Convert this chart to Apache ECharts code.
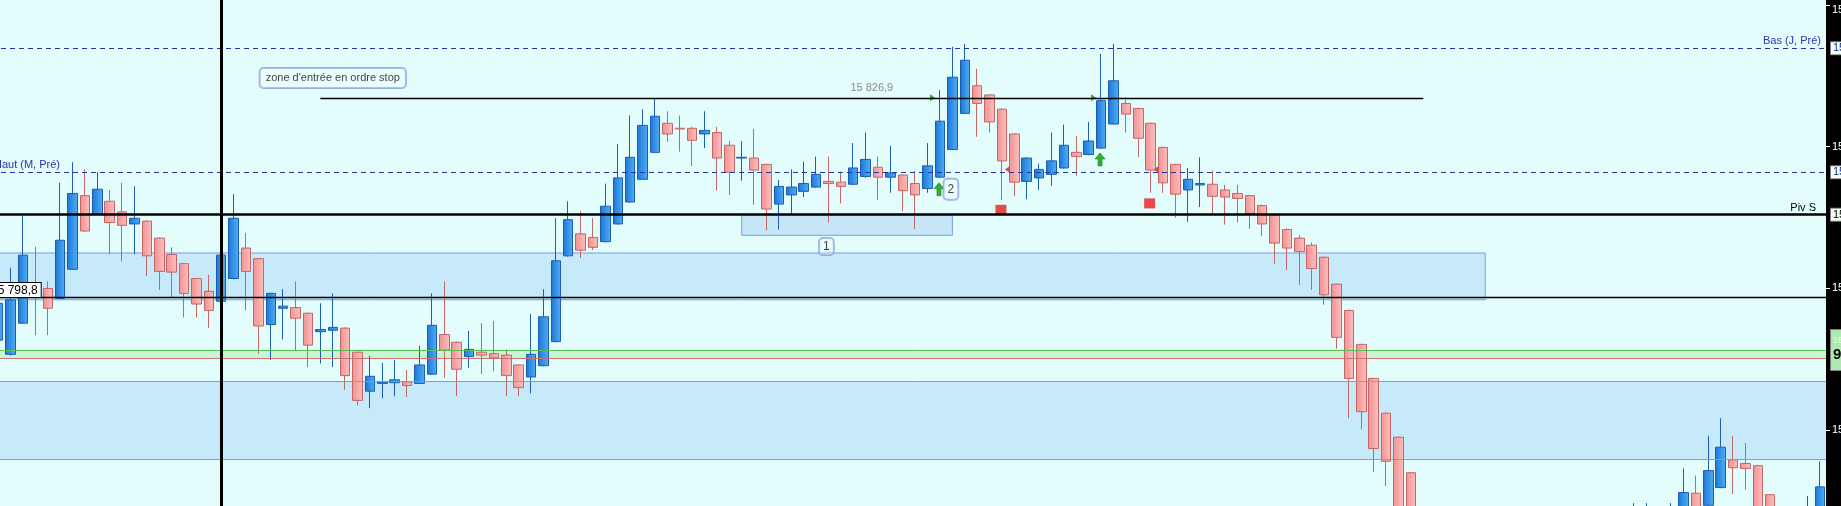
<!DOCTYPE html>
<html>
<head>
<meta charset="utf-8">
<title>Bougies - zone d'entrée</title>
<script src="https://cdn.jsdelivr.net/npm/echarts@6.0.0/dist/echarts.min.js"></script>
<style>
  html, body { margin: 0; padding: 0; background: #000; }
  #chart { width: 1841px; height: 506px; }
</style>
</head>
<body>
<div id="chart"></div>
<script>
// [open, close, low, high] ; null = bar outside the visible price range
const candles = [
  [15792.7, 15797.9, 15792.0, 15798.4], [15790.7, 15798.4, 15790.5, 15802.9], [15795.1, 15804.7, 15795.0, 15810.2],
  [15800.5, 15799.4, 15793.4, 15805.9], [15800.0, 15797.2, 15793.4, 15801.0], [15798.6, 15806.8, 15798.5, 15814.9],
  [15802.7, 15813.4, 15802.6, 15817.8], [15813.1, 15808.1, 15808.0, 15816.8], [15810.5, 15814.0, 15810.4, 15816.4],
  [15812.3, 15809.3, 15804.8, 15813.9], [15810.8, 15808.9, 15803.8, 15814.9], [15809.1, 15809.9, 15804.8, 15814.4],
  [15809.5, 15804.6, 15801.8, 15809.6], [15807.1, 15802.4, 15799.8, 15807.2], [15804.8, 15802.3, 15798.8, 15805.8],
  [15803.5, 15799.3, 15795.9, 15803.6], [15801.4, 15797.8, 15795.9, 15801.5], [15799.6, 15796.9, 15794.4, 15801.9],
  [15798.2, 15804.7, 15798.0, 15805.0], [15801.4, 15809.9, 15801.3, 15813.3], [15805.7, 15802.4, 15796.9, 15807.8],
  [15804.2, 15794.7, 15790.8, 15804.3], [15794.9, 15799.3, 15789.9, 15799.4], [15797.2, 15797.5, 15792.8, 15799.9],
  [15797.3, 15795.8, 15791.3, 15801.0], [15796.5, 15792.0, 15788.9, 15796.6], [15793.9, 15794.2, 15789.4, 15797.9],
  [15794.1, 15794.5, 15788.9, 15799.3], [15794.4, 15787.7, 15785.7, 15794.5], [15791.0, 15784.2, 15783.5, 15791.1],
  [15785.5, 15787.6, 15783.1, 15790.5], [15786.6, 15786.8, 15784.5, 15789.5], [15786.7, 15787.1, 15784.8, 15789.9],
  [15786.8, 15786.3, 15784.7, 15788.5], [15786.6, 15789.2, 15786.5, 15791.9], [15787.9, 15794.8, 15787.8, 15799.3],
  [15793.5, 15791.3, 15787.4, 15801.0], [15792.4, 15788.6, 15784.8, 15792.5], [15790.4, 15791.4, 15788.8, 15794.0],
  [15791.0, 15790.6, 15787.9, 15795.1], [15790.8, 15790.2, 15788.3, 15795.4], [15790.6, 15787.7, 15784.8, 15791.4],
  [15789.2, 15786.0, 15784.8, 15789.3], [15787.5, 15790.7, 15785.2, 15796.4], [15789.1, 15796.0, 15789.0, 15799.9],
  [15792.5, 15803.9, 15792.4, 15809.9], [15804.6, 15809.7, 15804.5, 15812.3], [15807.7, 15805.4, 15804.3, 15810.9],
  [15807.2, 15805.8, 15805.4, 15809.9], [15806.6, 15811.6, 15806.5, 15814.8], [15809.1, 15815.6, 15809.0, 15820.4],
  [15812.2, 15818.5, 15812.1, 15824.4], [15815.4, 15823.0, 15815.3, 15825.3], [15819.2, 15824.3, 15819.1, 15826.8],
  [15823.3, 15821.8, 15820.7, 15825.0], [15822.6, 15822.5, 15819.3, 15824.4], [15822.6, 15820.9, 15817.3, 15822.8],
  [15821.8, 15822.3, 15819.8, 15825.0], [15822.0, 15818.4, 15813.8, 15822.8], [15820.2, 15816.4, 15813.2, 15820.8],
  [15818.4, 15818.5, 15815.2, 15820.8], [15818.4, 15816.7, 15811.8, 15822.5], [15817.5, 15811.2, 15808.2, 15817.6],
  [15811.9, 15814.4, 15808.3, 15815.3], [15813.2, 15814.3, 15810.5, 15816.8], [15813.7, 15814.8, 15812.9, 15817.9],
  [15814.3, 15816.1, 15814.2, 15818.6], [15815.1, 15814.8, 15809.3, 15818.6], [15815.0, 15814.4, 15812.0, 15816.5],
  [15814.7, 15817.0, 15814.6, 15820.5], [15815.8, 15818.2, 15815.6, 15822.0], [15817.1, 15815.7, 15812.5, 15818.6],
  [15815.7, 15816.3, 15813.5, 15820.1], [15816.0, 15813.8, 15810.9, 15816.1], [15814.8, 15813.2, 15808.4, 15816.6],
  [15814.1, 15817.3, 15813.5, 15820.5], [15815.7, 15823.6, 15815.6, 15828.0], [15819.6, 15829.8, 15819.5, 15834.1],
  [15824.7, 15832.2, 15824.6, 15834.5], [15828.6, 15826.1, 15821.4, 15831.0], [15827.3, 15823.5, 15822.0, 15827.4],
  [15825.3, 15818.0, 15812.5, 15825.4], [15821.8, 15815.0, 15813.0, 15821.9], [15815.1, 15818.4, 15812.6, 15818.5],
  [15815.6, 15816.8, 15813.9, 15817.6], [15816.1, 15818.0, 15814.5, 15822.0], [15817.0, 15820.2, 15816.9, 15823.1],
  [15819.2, 15818.6, 15815.9, 15821.5], [15818.9, 15820.8, 15818.8, 15823.5], [15819.8, 15826.5, 15819.7, 15833.1],
  [15823.2, 15829.3, 15823.1, 15834.5], [15826.1, 15824.6, 15822.0, 15827.0], [15825.4, 15821.2, 15818.5, 15825.5],
  [15823.3, 15816.7, 15813.5, 15823.4], [15819.9, 15814.9, 15813.5, 15820.0], [15817.5, 15813.3, 15810.0, 15817.6],
  [15813.9, 15815.4, 15809.4, 15817.0], [15814.6, 15814.8, 15811.5, 15818.5], [15814.7, 15813.0, 15810.5, 15816.6],
  [15813.9, 15812.9, 15809.0, 15814.6], [15813.4, 15812.7, 15809.3, 15814.6], [15813.1, 15810.6, 15808.4, 15813.2],
  [15811.7, 15809.1, 15807.4, 15811.8], [15810.4, 15806.4, 15803.5, 15810.5], [15808.3, 15805.7, 15802.6, 15808.5],
  [15807.1, 15805.2, 15800.5, 15807.5], [15806.1, 15802.8, 15799.8, 15806.5], [15804.4, 15799.1, 15797.7, 15804.5],
  [15800.6, 15793.1, 15791.5, 15800.7], [15796.9, 15787.3, 15781.7, 15797.0], [15792.1, 15782.6, 15780.1, 15792.2],
  [15787.3, 15777.4, 15774.1, 15787.4], [15782.4, 15775.6, 15772.1, 15782.5], [15779.0, 15766.0, 15764.0, 15779.1],
  [15774.0, 15762.0, 15760.0, 15774.1],
  null, null, null, null, null, null, null, null, null, null, null, null, null, null, null, null, null,
  [15764.0, 15767.5, 15762.0, 15769.7], [15764.5, 15768.0, 15762.5, 15769.7], null,
  [15765.0, 15768.5, 15763.0, 15769.7], [15766.0, 15771.2, 15764.0, 15774.6], [15771.1, 15766.5, 15764.5, 15773.6],
  [15769.4, 15774.3, 15768.0, 15779.2], [15771.9, 15777.6, 15771.8, 15781.7], [15775.8, 15774.7, 15771.0, 15779.2],
  [15775.3, 15774.6, 15771.6, 15778.2], [15775.0, 15767.0, 15765.0, 15775.1], [15770.9, 15766.0, 15764.0, 15771.0],
  null, null,
  [15765.0, 15768.0, 15763.0, 15770.7], [15766.0, 15772.0, 15764.0, 15775.6]
];
const categories = candles.map((c, i) => String(i + 1));

// price scale and right axis ticks
const yMin = 15769.3;
const yMax = 15840.7;
const tickValues = [15780, 15800, 15820, 15840];
const tickLabels = ['15 780', '15 800', '15 820', '15 840'];

// levels drawn on the chart
const basJPre = 15833.9;
const hautMPre = 15816.4;
const pivS = 15810.4;
const entryStop = 15826.9;
const entryFrom = 26, entryTo = 115;
const lowLine = 15798.8;
const greenLevel = 15791.3;
const redLevel = 15790.1;
const zoneTop = 15805.0, zoneBottom = 15798.4, zoneEnd = 120;
const lowerZoneTop = 15786.9, lowerZoneBottom = 15775.9;
const box1Top = 15810.4, box1Bottom = 15807.5, box1From = 60, box1To = 77;
const vLineBar = 18;

// signals
const arrowPoints = [[76, 15814.0], [89, 15818.2]];
const stopPoints = [[81, 15811.1], [93, 15812.0]];
const entryPoints = [[76, 15826.9], [89, 15826.9]];
const exitPoints = [[81, 15816.8], [93, 15816.8]];
const noteTexts = ["zone d'entrée en ordre stop", '1', '2'];
const notePoints = [[27, 15829.7], [67, 15805.9], [77, 15814.0]];

const FONT = "'Liberation Sans', Arial, sans-serif";
const fmt = function (v) {
  let parts = v.toFixed(1).split('.');
  return parts[0].slice(0, -3) + ' ' + parts[0].slice(-3) + ',' + parts[1];
};

let chart = echarts.init(document.getElementById('chart'), null, { renderer: 'canvas' });

let blueFill = new echarts.graphic.LinearGradient(0, 0, 1, 0, [
  { offset: 0, color: '#1b76d6' }, { offset: 1, color: '#52aef5' }
]);
let redFill = new echarts.graphic.LinearGradient(0, 0, 1, 0, [
  { offset: 0, color: '#f39090' }, { offset: 1, color: '#fcc0c0' }
]);
let dashed = { color: '#2233aa', width: 1, type: [5, 4] };
let bandBorder = { color: '#7b9ce0', width: 1, type: 'solid' };
let hidden = { color: 'rgba(0,0,0,0)', width: 0 };
let tagLabel = {
  show: true, position: 'end', distance: 5, fontSize: 11, fontFamily: FONT,
  backgroundColor: '#f2fff4', borderColor: '#808080', borderWidth: 1, padding: [1, 2, 0, 2]
};

let option = {
  animation: false,
  backgroundColor: '#000',
  grid: {
    left: -8, right: 15, top: 0, bottom: 0,
    outerBoundsMode: 'none', containLabel: false,
    show: true, backgroundColor: '#e3fcfc', borderWidth: 0
  },
  xAxis: { type: 'category', data: categories, boundaryGap: true, show: false },
  yAxis: {
    type: 'value', position: 'right', min: yMin, max: yMax,
    splitLine: { show: false },
    axisLine: { show: false },
    axisTick: { show: true, length: 4, lineStyle: { color: '#fff' }, customValues: tickValues },
    axisLabel: {
      color: '#fff', fontSize: 11, fontFamily: FONT, margin: 6,
      customValues: tickValues, verticalAlignMaxLabel: 'top',
      formatter: function (v) { return tickLabels[tickValues.indexOf(v)]; }
    }
  },
  series: [
    {
      name: 'zones', type: 'line', data: [], z: 1, silent: true,
      markArea: {
        silent: true,
        data: [
          [{ xAxis: 0, yAxis: zoneTop, itemStyle: { color: '#c6eafa' } }, { xAxis: zoneEnd, yAxis: zoneBottom }],
          [{ yAxis: lowerZoneTop, itemStyle: { color: '#c6eafa' } }, { yAxis: lowerZoneBottom }],
          [{ yAxis: greenLevel, itemStyle: { color: '#c8f6d2' } }, { yAxis: redLevel }],
          [{ xAxis: box1From, yAxis: box1Top, itemStyle: { color: '#c6e6f8' } }, { xAxis: box1To, yAxis: box1Bottom }]
        ]
      }
    },
    {
      name: 'bougies', type: 'candlestick', z: 2, barWidth: 10,
      data: candles.map(c => c || ['-', '-', '-', '-']),
      itemStyle: {
        color: blueFill, color0: redFill,
        borderColor: '#1c5db2', borderColor0: '#c46666', borderWidth: 1
      }
    },
    {
      name: 'niveaux', type: 'line', data: [], z: 3, silent: true,
      markArea: {
        silent: true,
        data: [
          [{ xAxis: 0, yAxis: zoneTop, itemStyle: { color: 'transparent', borderColor: '#7b9ce0', borderWidth: 1 } },
           { xAxis: zoneEnd, yAxis: zoneBottom }],
          [{ xAxis: box1From, yAxis: box1Top, itemStyle: { color: 'transparent', borderColor: '#7b9ce0', borderWidth: 1 } },
           { xAxis: box1To, yAxis: box1Bottom }]
        ]
      },
      markLine: {
        silent: true, symbol: 'none',
        label: { show: false, fontFamily: FONT, fontSize: 11 },
        data: [
          { yAxis: lowerZoneTop, lineStyle: bandBorder },
          { yAxis: lowerZoneBottom, lineStyle: bandBorder },
          { yAxis: greenLevel, lineStyle: { color: '#55c055', width: 1, type: 'solid' } },
          { yAxis: redLevel, lineStyle: { color: '#c87474', width: 1, type: 'solid' } },
          { yAxis: basJPre, lineStyle: dashed,
            label: { show: true, position: 'insideEndTop', formatter: 'Bas (J, Pré)', color: '#2a35a8', distance: [5, 2] } },
          { yAxis: hautMPre, lineStyle: dashed,
            label: { show: true, position: 'insideStartTop', formatter: 'Haut (M, Pré)', color: '#2a35a8', distance: [2, 2] } },
          { yAxis: pivS, lineStyle: { color: '#000', width: 2.5, type: 'solid' },
            label: { show: true, position: 'insideEndTop', formatter: 'Piv S', color: '#000', distance: [10, 1] } },
          { yAxis: lowLine, lineStyle: { color: '#000', width: 1.3, type: 'solid' },
            label: { show: true, position: 'insideStartTop', formatter: fmt(lowLine), color: '#000', fontSize: 12,
              backgroundColor: '#fff', borderColor: '#000', borderWidth: 1, padding: [2, 3, 0, 3], distance: [-4, 0] } },
          [{ xAxis: entryFrom, yAxis: entryStop, lineStyle: { color: '#000', width: 1.3, type: 'solid' },
             label: { show: true, position: 'middle', formatter: fmt(entryStop), color: '#8c8c8c', distance: 4 } },
           { xAxis: entryTo, yAxis: entryStop }],
          { xAxis: vLineBar, lineStyle: { color: '#000', width: 3, type: 'solid' } }
        ]
      }
    },
    {
      name: 'entrées', type: 'scatter', z: 4, silent: true, data: entryPoints,
      symbol: 'triangle', symbolSize: [7, 5], symbolRotate: -90, symbolOffset: [-7.5, 0],
      itemStyle: { color: '#3a9e3a', opacity: 1 }
    },
    {
      name: 'sorties', type: 'scatter', z: 4, silent: true, data: exitPoints,
      symbol: 'triangle', symbolSize: [7, 5], symbolRotate: 90, symbolOffset: [5.5, 0],
      itemStyle: { color: '#d84848', opacity: 1 }
    },
    {
      name: 'flèches', type: 'scatter', z: 4, silent: true, data: arrowPoints,
      symbol: 'path://M5,0L10,6L7,6L7,13L3,13L3,6L0,6Z', symbolSize: [10, 13], symbolOffset: [-1, 0],
      itemStyle: { color: '#33b033', borderColor: '#1f801f', borderWidth: 0.6, opacity: 1 }
    },
    {
      name: 'stops', type: 'scatter', z: 4, silent: true, data: stopPoints,
      symbol: 'rect', symbolSize: [11, 10], symbolOffset: [-1, 0],
      itemStyle: { color: '#e64a4a', opacity: 1 }
    },
    {
      name: 'notes', type: 'scatter', z: 5, silent: true, data: notePoints,
      symbol: 'rect', symbolSize: 1,
      itemStyle: { color: 'rgba(0,0,0,0)' },
      label: {
        show: true, position: 'inside', color: '#111', fontFamily: FONT, fontSize: 11,
        backgroundColor: 'rgba(255,255,255,0.3)', borderColor: '#7d9fdc', borderWidth: 1, borderRadius: 4,
        formatter: function (p) { return noteTexts[p.dataIndex]; }
      },
      labelLayout: function (p) {
        return p.dataIndex === 0 ? {} : { dx: p.dataIndex === 1 ? -2 : -1.5 };
      }
    },
    {
      name: 'étiquettes', type: 'line', data: [], z: 6, silent: true,
      markLine: {
        silent: true, symbol: 'none',
        lineStyle: hidden,
        data: [
          { yAxis: basJPre, lineStyle: hidden, label: Object.assign({}, tagLabel, { formatter: fmt(basJPre), color: '#1c2a8c' }) },
          { yAxis: hautMPre, lineStyle: hidden, label: Object.assign({}, tagLabel, { formatter: fmt(hautMPre), color: '#1c2a8c' }) },
          { yAxis: pivS, lineStyle: hidden, label: Object.assign({}, tagLabel, { formatter: fmt(pivS), color: '#000' }) },
          { yAxis: greenLevel, lineStyle: hidden, label: Object.assign({}, tagLabel, {
              formatter: '{a|' + fmt(greenLevel) + '}\n{b|' + fmt(redLevel).slice(4) + '}',
              backgroundColor: '#aeeab0', padding: [4, 2, 6, 2],
              rich: {
                a: { fontSize: 9, color: '#e8fff0', fontFamily: FONT, lineHeight: 12 },
                b: { fontSize: 15, fontWeight: 'bold', color: '#000', fontFamily: FONT, lineHeight: 18 }
              }
            }) }
        ]
      }
    }
  ]
};

// padding of the note boxes
option.series[7].data = notePoints.map(function (pt, i) {
  return { value: pt, label: { padding: i === 0 ? [5, 6, 4, 6] : (i === 1 ? [3, 4, 2, 4] : [5, 4, 4, 4]), fontSize: i === 0 ? 11 : 12 } };
});

chart.setOption(option);
window.addEventListener('resize', function () { chart.resize(); });
</script>
</body>
</html>
